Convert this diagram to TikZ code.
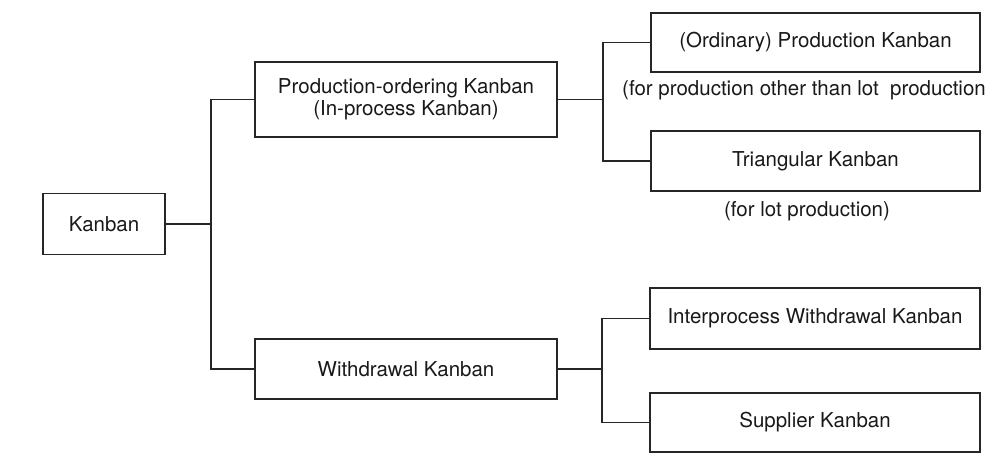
\documentclass[tikz,border=0pt]{standalone}
\usepackage{fontspec}
\setmainfont{TeX Gyre Heros}
\begin{document}
\begin{tikzpicture}[x=1pt,y=-1pt,
  ink/.style={draw=black!85, line width=1.6pt},
  kbox/.style={ink, rectangle, inner sep=0pt, align=center,
    font=\fontsize{20.5}{22.5}\selectfont, text=black!90},
  note/.style={inner sep=0pt, font=\fontsize{20.5}{22.5}\selectfont, text=black!90},
  tree/.style={ink, line cap=rect}]
  \useasboundingbox (0,0) rectangle (995,454);

  % boxes
  \node[kbox, minimum width=122pt, minimum height=61pt] (kanban) at (104,224) {Kanban};
  \node[kbox, minimum width=302pt, minimum height=75pt] (po) at (406,99.5)
    {Production-ordering Kanban\\(In-process Kanban)};
  \node[kbox, minimum width=302pt, minimum height=60pt] (wd) at (406,369) {Withdrawal Kanban};
  \node[kbox, minimum width=329pt, minimum height=59pt] (ord) at (815.5,42.5) {(Ordinary) Production Kanban};
  \node[kbox, minimum width=329pt, minimum height=60pt] (tri) at (815.5,161) {Triangular Kanban};
  \node[kbox, minimum width=330pt, minimum height=61pt] (inter) at (815,318.5) {Interprocess Withdrawal Kanban};
  \node[kbox, minimum width=330pt, minimum height=59pt] (sup) at (815,422.5) {Supplier Kanban};

  % notes under the production kanbans
  \node[note, anchor=west] (n1) at (622,90) {(for production other than lot\ \ production};
  \node[note] (n2) at (807,211) {(for lot production)};

  % x positions of the vertical branch lines
  \coordinate (j1) at (211,224);
  \coordinate (j2) at (603,99.5);
  \coordinate (j3) at (602,369);

  % connectors
  \draw[tree] (kanban.east) -- (kanban.east -| j1);
  \draw[tree] (po.west) -| (j1) |- (wd.west);
  \draw[tree] (po.east) -- (po.east -| j2);
  \draw[tree] (ord.west) -| (j2) |- (tri.west);
  \draw[tree] (wd.east) -- (wd.east -| j3);
  \draw[tree] (inter.west) -| (j3) |- (sup.west);
\end{tikzpicture}
\end{document}
